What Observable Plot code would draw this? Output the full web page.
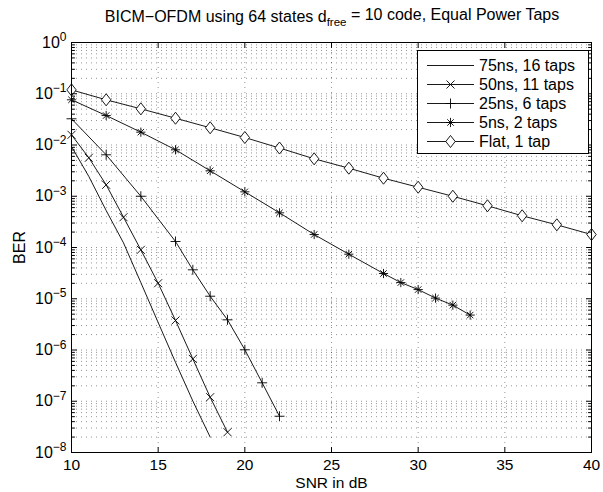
<!DOCTYPE html>
<html><head><meta charset="utf-8">
<script src="https://cdn.jsdelivr.net/npm/d3@7"></script>
<script src="https://cdn.jsdelivr.net/npm/@observablehq/plot@0.6"></script>
<style>
body{margin:0;background:#fff;}
#wrap{position:relative;width:603px;height:492px;font-family:'Liberation Sans',Arial,Helvetica,sans-serif;}
#legend{position:absolute;left:417px;top:50px;width:172px;height:104px;border:1px solid #000;background:#fff;box-sizing:border-box;padding-top:5px;}
.row{display:flex;align-items:center;height:19px;font-size:16px;color:#000;}
.row svg{margin-left:9px;margin-right:5px;}
</style>
</head><body>
<div id="wrap"><div id="legend"></div></div>
<script>
// ---- data ----
const seriesNames = ["75ns, 16 taps", "50ns, 11 taps", "25ns, 6 taps", "5ns, 2 taps", "Flat, 1 tap"];
const snr75ns = [10, 11, 12, 13, 14, 15, 16, 17, 18];
const ber75ns = [0.00935, 0.00243, 5.27e-4, 1.23e-4, 2.07e-5, 3.44e-6, 5.75e-7, 1.01e-7, 2.0e-8];
const snr50ns = [10, 11, 12, 13, 14, 15, 16, 17, 18, 19];
const ber50ns = [0.0158, 0.00563, 0.00167, 3.9e-4, 9.0e-5, 2.01e-5, 3.77e-6, 6.7e-7, 1.2e-7, 2.49e-8];
const snr25ns = [10, 12, 14, 16, 17, 18, 19, 20, 21, 22];
const ber25ns = [0.0325, 0.00644, 0.00100, 1.31e-4, 3.67e-5, 1.12e-5, 3.88e-6, 1.01e-6, 2.29e-7, 5.1e-8];
const snr5ns = [10, 12, 14, 16, 18, 20, 22, 24, 26, 28, 29, 30, 31, 32, 33];
const ber5ns = [0.0762, 0.0376, 0.0178, 0.00806, 0.00314, 0.00122, 0.000475, 0.000179, 7.4e-5, 3.11e-5, 2.07e-5, 1.51e-5, 1.03e-5, 7.5e-6, 4.8e-6];
const snrFlat = [10, 12, 14, 16, 18, 20, 22, 24, 26, 28, 30, 32, 34, 36, 38, 40];
const berFlat = [0.119, 0.0762, 0.0508, 0.0333, 0.0217, 0.0140, 0.00873, 0.00538, 0.00353, 0.00225, 0.00150, 0.00100, 0.000651, 0.000416, 0.000277, 0.000179];
const xTicks = [10, 15, 20, 25, 30, 35, 40];
const yExponents = [-8, -7, -6, -5, -4, -3, -2, -1, 0];
const titleMain = "BICM\u2212OFDM using 64 states d";
const titleSub = "free";
const titleEnd = " = 10 code, Equal Power Taps";
const xLabel = "SNR in dB";
const yLabel = "BER";

// ---- marker shapes ----
const rad = s => Math.sqrt(s / Math.PI);
const symCross = {draw(c, s) {const r = rad(s); c.moveTo(-r, -r); c.lineTo(r, r); c.moveTo(-r, r); c.lineTo(r, -r);}};
const symPlus = {draw(c, s) {const r = rad(s); c.moveTo(-r, 0); c.lineTo(r, 0); c.moveTo(0, -r); c.lineTo(0, r);}};
const symStar = {draw(c, s) {const r = rad(s), q = r * 0.7; c.moveTo(-r, 0); c.lineTo(r, 0); c.moveTo(0, -r); c.lineTo(0, r); c.moveTo(-q, -q); c.lineTo(q, q); c.moveTo(-q, q); c.lineTo(q, -q);}};
const symDiamond = {draw(c, s) {const r = rad(s); c.moveTo(0, -r * 1.28); c.lineTo(r, 0); c.lineTo(0, r * 1.28); c.lineTo(-r, 0); c.closePath();}};

const seriesSpec = [
  {name: seriesNames[0], snr: snr75ns, ber: ber75ns, symbol: null, r: 0, fill: "none"},
  {name: seriesNames[1], snr: snr50ns, ber: ber50ns, symbol: symCross, r: 4, fill: "none"},
  {name: seriesNames[2], snr: snr25ns, ber: ber25ns, symbol: symPlus, r: 5, fill: "none"},
  {name: seriesNames[3], snr: snr5ns, ber: ber5ns, symbol: symStar, r: 4.6, fill: "none"},
  {name: seriesNames[4], snr: snrFlat, ber: berFlat, symbol: symDiamond, r: 4.7, fill: "white"}
];
const rows = seriesSpec.flatMap(s => s.snr.map((x, i) => ({series: s.name, snr: x, ber: s.ber[i]})));

const yMajor = yExponents.map(e => Math.pow(10, e));
const yMinor = yExponents.slice(0, -1).flatMap(e => d3.range(2, 10).map(m => m * Math.pow(10, e)));
const tickShape = {draw(c, l) {c.moveTo(0, 0); c.lineTo(0, -l);}};
const grid = {stroke: "#000", strokeOpacity: 0.42, strokeWidth: 1, strokeDasharray: "1,4"};
const font = "'Liberation Sans', Arial, Helvetica, sans-serif";

const marks = [
  Plot.ruleY(yMinor.concat(yMajor), grid),
  Plot.ruleX(xTicks, grid),
  Plot.line(rows, {x: "snr", y: "ber", z: "series", stroke: "#000", strokeWidth: 0.9})
];
for (const s of seriesSpec) {
  if (!s.symbol) continue;
  marks.push(Plot.dot(rows.filter(d => d.series === s.name), {x: "snr", y: "ber", symbol: s.symbol, r: s.r, stroke: "#000", fill: s.fill, strokeWidth: 0.9}));
}
const vec = (data, o) => Plot.vector(data, {shape: tickShape, anchor: "start", stroke: "#000", strokeWidth: 1, ...o});
marks.push(
  Plot.frame({stroke: "#000", strokeWidth: 1}),
  vec(yMajor, {y: d => d, frameAnchor: "left", rotate: 90, length: 5}),
  vec(yMajor, {y: d => d, frameAnchor: "right", rotate: -90, length: 5}),
  vec(yMinor, {y: d => d, frameAnchor: "left", rotate: 90, length: 3}),
  vec(yMinor, {y: d => d, frameAnchor: "right", rotate: -90, length: 3}),
  vec(xTicks, {x: d => d, frameAnchor: "bottom", rotate: 0, length: 5}),
  vec(xTicks, {x: d => d, frameAnchor: "top", rotate: 180, length: 5}),
  Plot.axisY(yMajor, {anchor: "left", tickSize: 0, tickPadding: 5, fontSize: 16, tickFormat: d => "10^" + Math.round(Math.log10(d)),
    label: yLabel, labelAnchor: "center", labelOffset: 58, labelArrow: "none"}),
  Plot.axisX(xTicks, {anchor: "bottom", tickSize: 0, tickPadding: 6, fontSize: 15.5, tickFormat: d => String(d),
    label: xLabel, labelAnchor: "center", labelOffset: 35, labelArrow: "none"})
);

const chart = Plot.plot({
  width: 603, height: 492,
  marginLeft: 71, marginRight: 12, marginTop: 42, marginBottom: 40,
  style: {fontFamily: font, fontSize: "16px", background: "#fff", color: "#000"},
  x: {domain: [10, 40]},
  y: {type: "log", domain: [1e-8, 1]},
  marks
});
document.getElementById("wrap").prepend(chart);

// superscript exponents on the y tick labels
const svg = d3.select(chart);
svg.selectAll("text").each(function () {
  const t = this.textContent;
  if (/^10\^/.test(t)) {
    const e = t.slice(3).replace("-", "\u2212");
    this.textContent = "10";
    d3.select(this).append("tspan").attr("dy", "-0.55em").attr("font-size", "12px").text(e);
  }
});
// title with subscript
const title = svg.append("text").attr("x", 332).attr("y", 22).attr("text-anchor", "middle")
  .attr("font-family", font).attr("font-size", "16px").attr("fill", "#000");
title.append("tspan").text(titleMain);
title.append("tspan").attr("dy", "0.35em").attr("font-size", "11.5px").text(titleSub);
title.append("tspan").attr("dy", "-0.35em").text(titleEnd);

// legend
const legend = d3.select("#legend");
for (const s of seriesSpec) {
  const row = legend.append("div").attr("class", "row");
  const sv = row.append("svg").attr("width", 47).attr("height", 19);
  sv.append("line").attr("x1", 0).attr("x2", 47).attr("y1", 9.5).attr("y2", 9.5).attr("stroke", "#000").attr("stroke-width", 0.9);
  if (s.symbol) {
    const p = d3.path();
    s.symbol.draw(p, s.r * s.r * Math.PI);
    sv.append("path").attr("d", p.toString()).attr("transform", "translate(23.5,9.5)")
      .attr("stroke", "#000").attr("stroke-width", 0.9).attr("fill", s.fill);
  }
  row.append("span").text(s.name);
}
</script>
</body></html>
